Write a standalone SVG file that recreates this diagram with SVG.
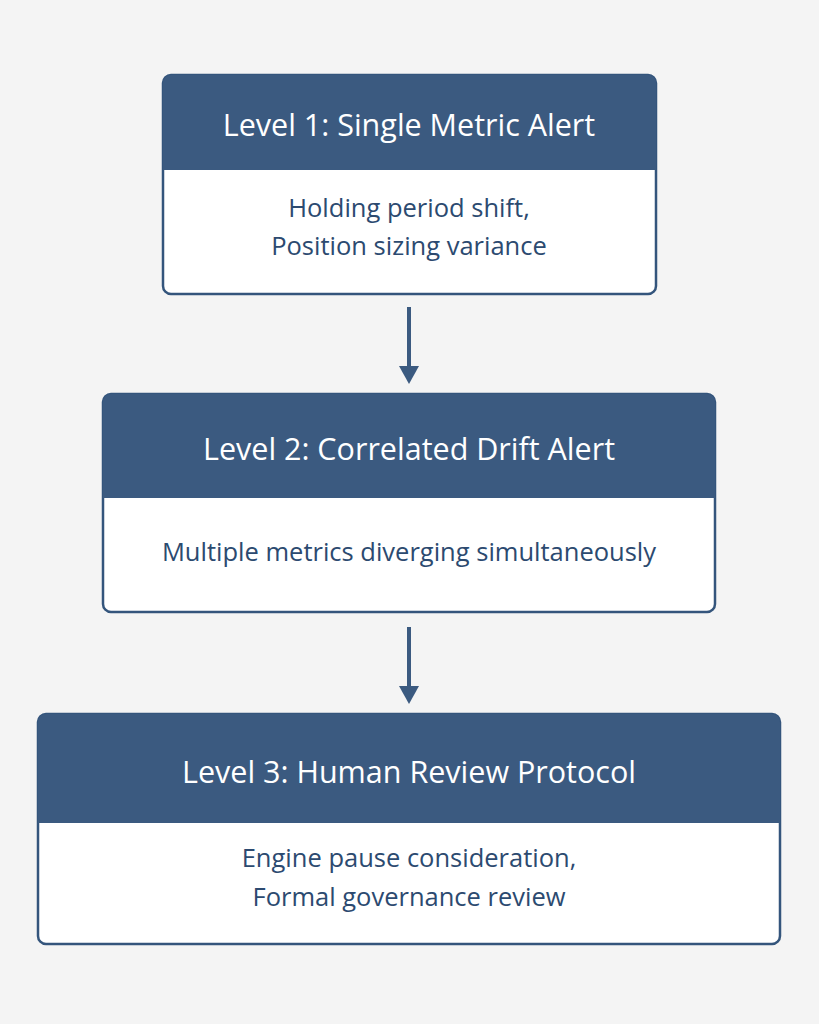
<svg xmlns="http://www.w3.org/2000/svg" width="819" height="1024" viewBox="0 0 819 1024">
<style>
.box{fill:#ffffff;stroke:#34557c;stroke-width:2.5}
.hd{fill:#3b5a80}
.ht{font-family:"Open Sans","Noto Sans",sans-serif;font-size:30.5px;fill:#ffffff;text-anchor:middle}
.bt{font-family:"Open Sans","Noto Sans",sans-serif;font-size:25.5px;fill:#2c4a70;text-anchor:middle}
.ln{stroke:#3b5a80;stroke-width:4}
</style>
<defs>
<marker id="ah" markerWidth="8" markerHeight="6" refX="0" refY="2.5" orient="auto" markerUnits="strokeWidth"><path d="M0,0 L4.5,2.5 L0,5 Z" fill="#3b5a80"/></marker>
</defs>
<rect width="819" height="1024" fill="#f4f4f4"/>
<g id="level1">
<rect class="box" x="163" y="75" width="493" height="219" rx="8"/>
<path class="hd" d="M171,75 H648 a8,8 0 0 1 8,8 V170 H163 V83 a8,8 0 0 1 8,-8 Z"/>
<text class="ht" x="409" y="136">Level 1: Single Metric Alert</text>
<text class="bt" x="409" y="217">Holding period shift,</text>
<text class="bt" x="409" y="255">Position sizing variance</text>
</g>
<g id="level2">
<rect class="box" x="103" y="394" width="612" height="218" rx="8"/>
<path class="hd" d="M111,394 H707 a8,8 0 0 1 8,8 V498 H103 V402 a8,8 0 0 1 8,-8 Z"/>
<text class="ht" x="409" y="460">Level 2: Correlated Drift Alert</text>
<text class="bt" x="409" y="561">Multiple metrics diverging simultaneously</text>
</g>
<g id="level3">
<rect class="box" x="38" y="714" width="742" height="230" rx="8"/>
<path class="hd" d="M46,714 H772 a8,8 0 0 1 8,8 V823 H38 V722 a8,8 0 0 1 8,-8 Z"/>
<text class="ht" x="409" y="783">Level 3: Human Review Protocol</text>
<text class="bt" x="409" y="867">Engine pause consideration,</text>
<text class="bt" x="409" y="906">Formal governance review</text>
</g>
<g id="connectors">
<line class="ln" x1="409" y1="307" x2="409" y2="366" marker-end="url(#ah)"/>
<line class="ln" x1="409" y1="627" x2="409" y2="686" marker-end="url(#ah)"/>
</g>
</svg>
